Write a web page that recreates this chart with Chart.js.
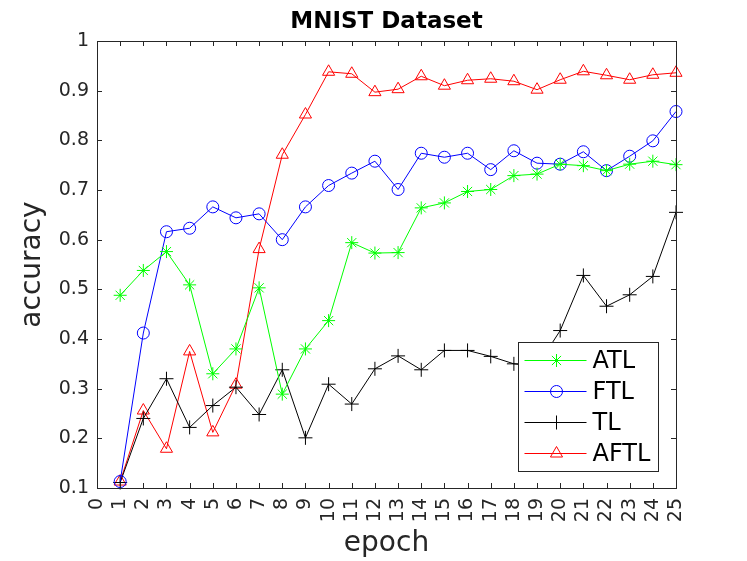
<!DOCTYPE html>
<html>
<head>
<meta charset="utf-8">
<script src="https://cdn.jsdelivr.net/npm/chart.js@4/dist/chart.umd.min.js"></script>
<style>
  html, body { margin: 0; padding: 0; background: #fff; }
  #wrap { width: 747px; height: 561px; }
</style>
</head>
<body>
<div id="wrap"><canvas id="mnistChart" width="747" height="561"></canvas></div>
<script>
// values
const epochs = [1, 2, 3, 4, 5, 6, 7, 8, 9, 10, 11, 12, 13, 14, 15, 16, 17, 18, 19, 20, 21, 22, 23, 24, 25];
const atl  = [0.488, 0.538, 0.576, 0.509, 0.330, 0.380, 0.503, 0.289, 0.380, 0.437, 0.594, 0.573, 0.574, 0.664, 0.674, 0.697, 0.701, 0.729, 0.732, 0.752, 0.749, 0.739, 0.752, 0.758, 0.751];
const ftl  = [0.113, 0.412, 0.616, 0.623, 0.666, 0.644, 0.652, 0.600, 0.666, 0.709, 0.734, 0.758, 0.701, 0.774, 0.766, 0.774, 0.741, 0.779, 0.754, 0.752, 0.777, 0.739, 0.768, 0.799, 0.858];
const tl   = [0.111, 0.240, 0.320, 0.222, 0.266, 0.303, 0.248, 0.338, 0.201, 0.309, 0.269, 0.340, 0.366, 0.338, 0.377, 0.377, 0.365, 0.350, 0.345, 0.417, 0.528, 0.466, 0.489, 0.526, 0.655];
const aftl = [0.113, 0.256, 0.179, 0.375, 0.212, 0.308, 0.581, 0.771, 0.852, 0.938, 0.934, 0.897, 0.903, 0.929, 0.910, 0.921, 0.924, 0.919, 0.902, 0.922, 0.939, 0.931, 0.922, 0.932, 0.936];
const xTicks = [0, 1, 2, 3, 4, 5, 6, 7, 8, 9, 10, 11, 12, 13, 14, 15, 16, 17, 18, 19, 20, 21, 22, 23, 24, 25];
const yTicks = [0.1, 0.2, 0.3, 0.4, 0.5, 0.6, 0.7, 0.8, 0.9, 1];
const chartTitle = 'MNIST Dataset';

const axisColor = '#262626';
const fontFamily = '"DejaVu Sans", sans-serif';

function toPoints(vals) {
    return vals.map(function(v, i) { return { x: epochs[i], y: v }; });
}

function series(label, vals, color, style, radius) {
    return {
        label: label,
        data: toPoints(vals),
        borderColor: color,
        backgroundColor: 'rgba(0,0,0,0)',
        borderWidth: 1,
        pointStyle: style,
        pointRadius: radius,
        pointHoverRadius: radius,
        pointBorderColor: color,
        pointBackgroundColor: 'rgba(0,0,0,0)',
        pointBorderWidth: 1,
        tension: 0,
        clip: false
    };
}

// matlab style box with ticks pointing inward, title centred on the axes
const boxPlugin = {
    id: 'boxAxes',
    afterDraw: function(chart) {
        const ctx = chart.ctx;
        const a = chart.chartArea;
        const xs = chart.scales.x, ys = chart.scales.y;
        const len = 5;
        ctx.save();
        ctx.strokeStyle = axisColor;
        ctx.lineWidth = 1;
        ctx.beginPath();
        xTicks.forEach(function(t) {
            const px = Math.round(xs.getPixelForValue(t)) + 0.5;
            ctx.moveTo(px, a.bottom); ctx.lineTo(px, a.bottom - len);
            ctx.moveTo(px, a.top); ctx.lineTo(px, a.top + len);
        });
        yTicks.forEach(function(t) {
            const py = Math.round(ys.getPixelForValue(t)) + 0.5;
            ctx.moveTo(a.left, py); ctx.lineTo(a.left + len, py);
            ctx.moveTo(a.right, py); ctx.lineTo(a.right - len, py);
        });
        ctx.stroke();
        ctx.strokeRect(Math.round(a.left) + 0.5, Math.round(a.top) + 0.5,
            Math.round(a.right - a.left), Math.round(a.bottom - a.top));

        ctx.fillStyle = '#000';
        ctx.font = 'bold 23px ' + fontFamily;
        ctx.textAlign = 'center';
        ctx.textBaseline = 'middle';
        ctx.fillText(chartTitle, (a.left + a.right) / 2, a.top - 19);
        ctx.restore();
    }
};

// legend box in lower right of the axes
const legendPlugin = {
    id: 'innerLegend',
    afterDraw: function(chart) {
        const ctx = chart.ctx;
        const a = chart.chartArea;
        const w = 140, h = 129;
        const x0 = Math.round(a.right - 18 - w) + 0.5;
        const y0 = Math.round(a.bottom - 17 - h) + 0.5;
        ctx.save();
        ctx.fillStyle = '#fff';
        ctx.fillRect(x0, y0, w, h);
        ctx.strokeStyle = axisColor;
        ctx.lineWidth = 1;
        ctx.strokeRect(x0, y0, w, h);
        ctx.font = '24px ' + fontFamily;
        ctx.textBaseline = 'middle';
        chart.data.datasets.forEach(function(ds, i) {
            const cy = y0 + 18 + i * 31;
            ctx.strokeStyle = ds.borderColor;
            ctx.lineWidth = 1;
            ctx.beginPath();
            ctx.moveTo(x0 + 6, cy);
            ctx.lineTo(x0 + 68, cy);
            ctx.stroke();
            ctx.fillStyle = 'rgba(0,0,0,0)';
            Chart.helpers.drawPoint(ctx, {
                pointStyle: ds.pointStyle,
                radius: ds.pointRadius,
                rotation: 0,
                borderWidth: 1
            }, x0 + 38, cy);
            ctx.fillStyle = '#000';
            ctx.fillText(ds.label, x0 + 74, cy + 1);
        });
        ctx.restore();
    }
};

const ctx = document.getElementById('mnistChart').getContext('2d');
new Chart(ctx, {
    type: 'line',
    data: {
        datasets: [
            series('ATL', atl, '#00ff00', 'star', 6.5),
            series('FTL', ftl, '#0000ff', 'circle', 6),
            series('TL', tl, '#000000', 'cross', 7),
            series('AFTL', aftl, '#ff0000', 'triangle', 7)
        ]
    },
    options: {
        responsive: false,
        animation: false,
        events: [],
        layout: { padding: { left: 0, right: 71, top: 41, bottom: 0 } },
        plugins: {
            legend: { display: false },
            tooltip: { enabled: false },
            title: { display: false }
        },
        scales: {
            x: {
                type: 'linear',
                min: 0,
                max: 25,
                afterBuildTicks: function(scale) {
                    scale.ticks = xTicks.map(function(v) { return { value: v }; });
                },
                afterFit: function(scale) { scale.height = 73; },
                grid: { display: false, drawTicks: false },
                border: { display: false },
                ticks: {
                    color: axisColor,
                    font: { family: fontFamily, size: 19 },
                    minRotation: 90,
                    maxRotation: 90,
                    autoSkip: false,
                    padding: 10
                },
                title: {
                    display: true,
                    text: 'epoch',
                    color: axisColor,
                    font: { family: fontFamily, size: 28 },
                    padding: { top: 0, bottom: 0 }
                }
            },
            y: {
                type: 'linear',
                min: 0.1,
                max: 1,
                afterBuildTicks: function(scale) {
                    scale.ticks = yTicks.map(function(v) { return { value: v }; });
                },
                afterFit: function(scale) { scale.width = 97; },
                grid: { display: false, drawTicks: false },
                border: { display: false },
                ticks: {
                    color: axisColor,
                    font: { family: fontFamily, size: 19 },
                    padding: 8,
                    callback: function(v) { return String(Math.round(v * 10) / 10); }
                },
                title: {
                    display: true,
                    text: 'accuracy',
                    color: axisColor,
                    font: { family: fontFamily, size: 28 },
                    padding: { top: 16, bottom: 0 }
                }
            }
        }
    },
    plugins: [boxPlugin, legendPlugin]
});
</script>
</body>
</html>
